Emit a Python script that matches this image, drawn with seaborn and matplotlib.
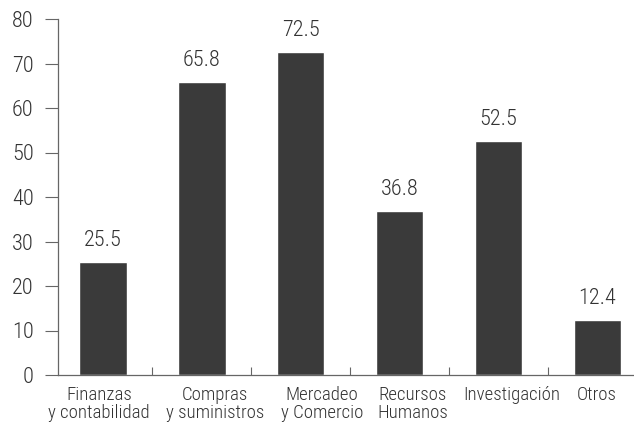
import matplotlib
matplotlib.use("Agg")
import matplotlib.pyplot as plt
import matplotlib.transforms as mtransforms
import seaborn as sns
import pandas as pd

categories = ["Finanzas\ny contabilidad", "Compras\ny suministros", "Mercadeo\ny Comercio",
              "Recursos\nHumanos", "Investigación", "Otros"]
values = [25.5, 65.8, 72.5, 36.8, 52.5, 12.4]
y_ticks = [0, 10, 20, 30, 40, 50, 60, 70, 80]
# horizontal nudges (pixels) for the category captions
label_shift_px = [-4, 13, 21, 13, 13, -1]

sns.set_theme(style="white")
plt.rcParams["font.family"] = ["Roboto Condensed Light", "Roboto Condensed",
                               "Roboto", "DejaVu Sans"]
plt.rcParams["font.weight"] = "light"

text_color = "#333333"
bar_color = "#3a3a3a"
line_color = "#666666"

df = pd.DataFrame({"area": categories, "valor": values})

fig = plt.figure(figsize=(6.34, 4.25), dpi=100)
ax = fig.add_axes([58 / 634, 50 / 425, 576 / 634, 356 / 425])

sns.barplot(data=df, x="area", y="valor", color=bar_color, width=0.48,
            saturation=1, ax=ax)

for i, v in enumerate(values):
    ax.text(i, v + 3.6, f"{v:.1f}", ha="center", va="baseline",
            fontsize=16, color=text_color, fontweight="light")

ax.set_ylim(0, 80)
ax.set_xlim(-0.455, 5.37)
ax.set_yticks(y_ticks)
ax.set_yticklabels([str(t) for t in y_ticks], fontsize=16, color=text_color,
                   fontweight="light")
ax.set_xticks(range(len(categories)))
ax.set_xticklabels(categories, fontsize=13.5, color=text_color, linespacing=1.0,
                   fontweight="light")
ax.set_xlabel("")
ax.set_ylabel("")

# category separators on the baseline
ax.set_xticks([i + 0.5 for i in range(len(categories) - 1)], minor=True)
ax.tick_params(axis="x", which="major", length=0, pad=8)
ax.tick_params(axis="x", which="minor", direction="in", length=6,
               width=0.8, color=line_color, bottom=True)
ax.tick_params(axis="y", which="major", direction="out", length=9.5,
               width=0.8, color=line_color, left=True, pad=8)

# nudge captions sideways (after tick_params, which resets label transforms)
for lbl, dx in zip(ax.get_xticklabels(), label_shift_px):
    lbl.set_transform(lbl.get_transform() +
                      mtransforms.ScaledTranslation(dx / 100, 0, fig.dpi_scale_trans))

for side in ["top", "right"]:
    ax.spines[side].set_visible(False)
for side in ["left", "bottom"]:
    ax.spines[side].set_color(line_color)
    ax.spines[side].set_linewidth(0.9)

fig.savefig("out.png", dpi=100)
